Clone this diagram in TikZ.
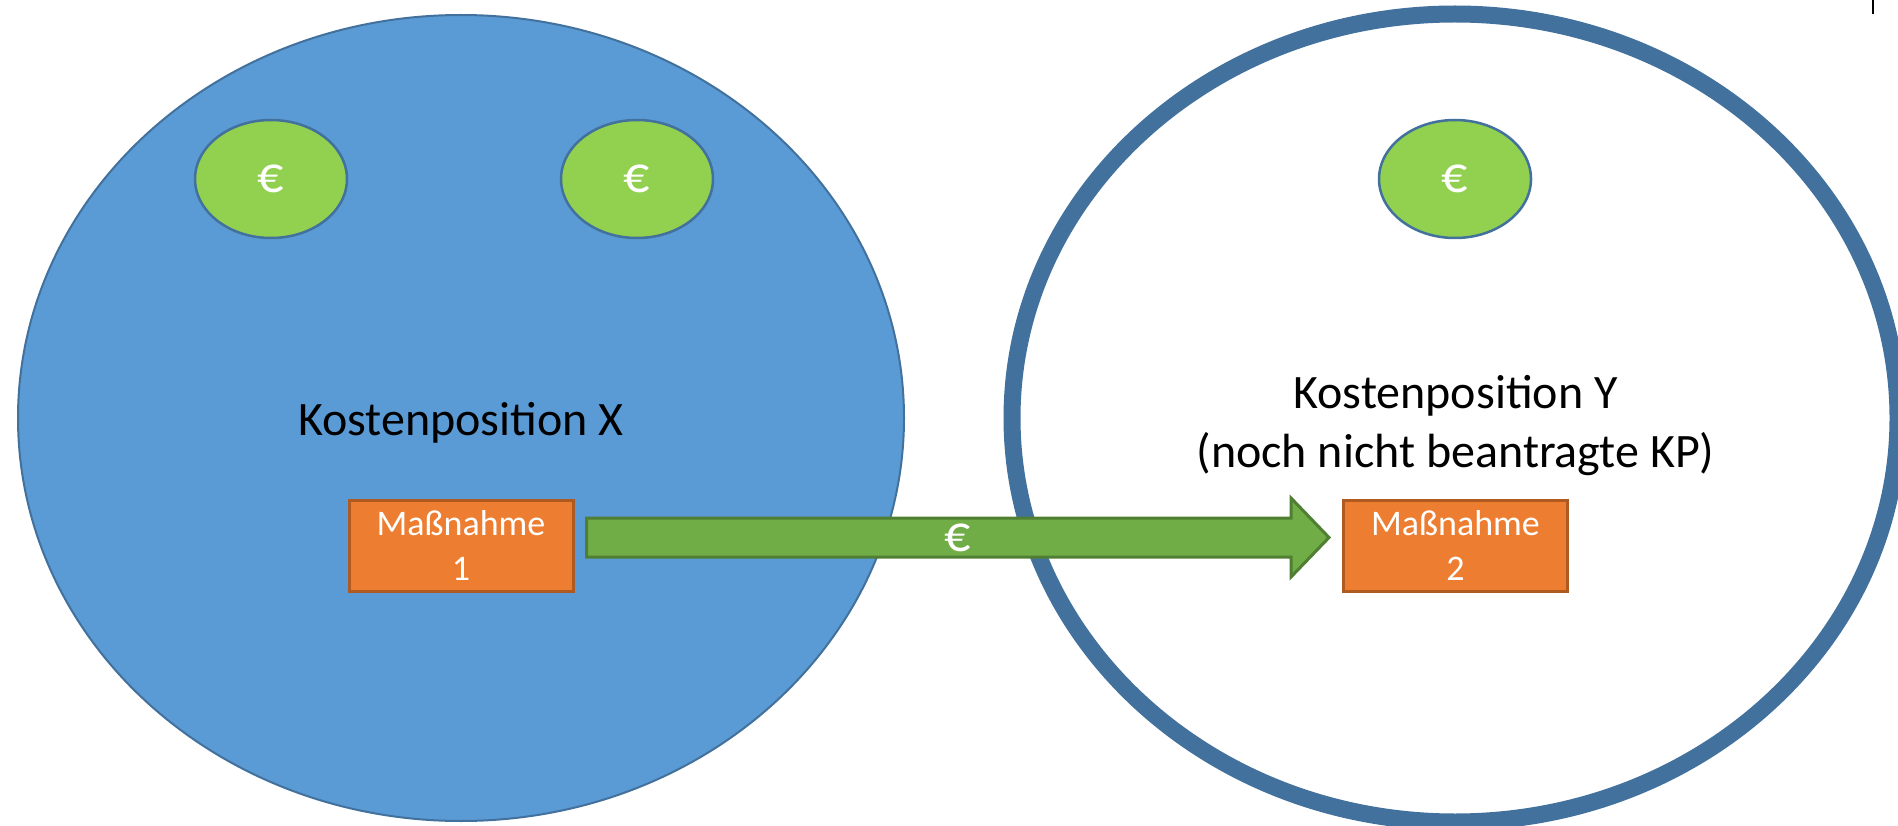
\documentclass[tikz,border=0pt]{standalone}
\usepackage{fontspec}
\setmainfont{Carlito}
\usetikzlibrary{calc,shapes.geometric}
\definecolor{kpblue}{HTML}{5B9BD5}
\definecolor{kpedge}{HTML}{41719C}
\definecolor{eurogreen}{HTML}{92D050}
\definecolor{mgorange}{HTML}{ED7D31}
\definecolor{mgedge}{HTML}{AE5A21}
\definecolor{arrgreen}{HTML}{70AD47}
\definecolor{arredge}{HTML}{507E32}
\tikzset{
  kpfilled/.style={ellipse, draw=kpedge, fill=kpblue, line width=2pt, inner sep=0pt,
    minimum width=886pt, minimum height=806pt},
  kpopen/.style={ellipse, draw=kpedge, fill=none, line width=17pt, inner sep=0pt,
    minimum width=886pt, minimum height=808pt},
  coin/.style={ellipse, draw=kpedge, fill=eurogreen, line width=2.5pt, inner sep=0pt,
    minimum width=152pt, minimum height=118pt, text=white,
    font=\fontsize{52}{60}\selectfont},
  measure/.style={rectangle, draw=mgedge, fill=mgorange, line width=3pt, inner sep=0pt,
    minimum width=224pt, minimum height=91pt, text=white, align=center,
    font=\fontsize{36}{45}\selectfont},
  kplabel/.style={text=black, align=center, inner sep=0pt,
    font=\fontsize{48}{59}\selectfont},
  flowarrow/.style={draw=arredge, fill=arrgreen, line width=3pt, line join=miter},
  eurolabel/.style={text=white, inner sep=0pt, font=\fontsize{52}{60}\selectfont}
}
\begin{document}
\begin{tikzpicture}[x=1pt, y=-1pt]
  \useasboundingbox (0,0) rectangle (1898,826);
  \fill[white] (0,0) rectangle (1898,826);

  % cost positions
  \node[kpfilled] (kpX) at (461,418) {};
  \node[kpopen]   (kpY) at (1455,418) {};

  % coins
  \node[coin] (c1) at (271,179) {€};
  \node[coin] (c2) at (637,179) {€};
  \node[coin] (c3) at (1455,179) {€};

  % labels
  \node[kplabel, anchor=base] (lX) at (461,435) {Kostenposition X};
  \node[kplabel, anchor=base] (lY) at (1455.5,467) {Kostenposition Y\\(noch nicht beantragte KP)};

  % measures
  \node[measure] (m1) at (461,545.5) {Maßnahme\\1};
  \node[measure] (m2) at (1455.5,545.5) {Maßnahme\\2};

  % block arrow from measure 1 to measure 2
  \coordinate (as) at ($(m1.east)+(12,-8)$);
  \coordinate (ae) at ($(m2.west)+(-13,-8)$);
  \draw[flowarrow] ($(as)+(0,-19.5)$) -- ($(ae)+(-38,-19.5)$) -- ($(ae)+(-38,-39.5)$)
     -- (ae) -- ($(ae)+(-38,39.5)$) -- ($(ae)+(-38,19.5)$) -- ($(as)+(0,19.5)$) -- cycle;
  \node[eurolabel] (ae-label) at ($(as)!0.5!(ae)$) {€};

  % small cursor mark at top right
  \draw[black, line width=1.5pt] (1873,0) -- (1873,14);
\end{tikzpicture}
\end{document}
